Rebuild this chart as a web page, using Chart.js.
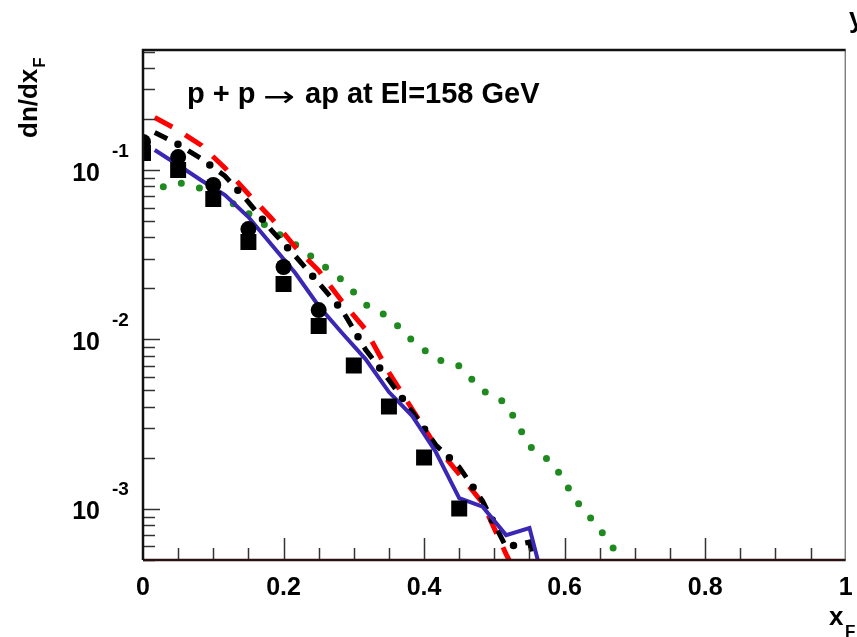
<!DOCTYPE html>
<html>
<head>
<meta charset="utf-8">
<script src="https://cdn.jsdelivr.net/npm/chart.js@4.4.0/dist/chart.umd.min.js"></script>
<style>
  html, body { margin: 0; padding: 0; background: #fff; }
  canvas { display: block; }
</style>
</head>
<body>
<canvas id="chart" width="857" height="637"></canvas>
<script>
// model curves, sampled at bin centres (bins of 1/30 in xF)
var xModel = [0.0167, 0.05, 0.0833, 0.1167, 0.15, 0.1833, 0.2167, 0.25, 0.2833, 0.3167, 0.35,
  0.3833, 0.4167, 0.45, 0.4833, 0.5167, 0.55, 0.5833, 0.6167, 0.65, 0.6833, 0.7167];
var redModel = [0.2042, 0.1718, 0.1395, 0.1027, 0.0722, 0.0516, 0.0351, 0.02551, 0.01674, 0.01144,
  0.00638, 0.00386, 0.002348, 0.001605, 0.001082, 0.000541, 0.000289];
var blackModel = [0.1665, 0.1418, 0.1164, 0.0922, 0.0647, 0.0439, 0.03108, 0.02153, 0.01491, 0.00872,
  0.00576, 0.003726, 0.00238, 0.001765, 0.001112, 0.000595, 0.000637, 0.000155];
var blueModel = [0.1312, 0.107, 0.0867, 0.0712, 0.0528, 0.0361, 0.02466, 0.01575, 0.01091, 0.00766,
  0.00489, 0.00353, 0.002165, 0.001158, 0.001029, 0.0007, 0.00077, 0.000227];
var greenModel = [0.0772, 0.0844, 0.0777, 0.0679, 0.0554, 0.0445, 0.03637, 0.02863, 0.02242, 0.01607,
  0.01356, 0.00985, 0.00766, 0.00697, 0.00499, 0.00421, 0.002348, 0.001864, 0.001112, 0.00076,
  0.000485, 0.000221];

// measured points
var xData = [0, 0.05, 0.1, 0.15, 0.2, 0.25, 0.3, 0.35, 0.4, 0.45];
var circleData = [0.1463, 0.1193, 0.0816, 0.0448, 0.02676, 0.01491];
var squareData = [0.126, 0.100, 0.0674, 0.0376, 0.02123, 0.01199, 0.00702, 0.00402, 0.00201, 0.001005];

// axis ticks
var xTickLabels = [0, 0.2, 0.4, 0.6, 0.8, 1];
var yDecades = [-1, -2, -3];

var FONT = '"Liberation Sans", Arial, Helvetica, sans-serif';

function pts(xs, ys) {
  return ys.map(function (y, i) { return { x: xs[i], y: y }; });
}

// frame, ticks and texts in ROOT style
var rootAxes = {
  id: 'rootAxes',
  afterDatasetsDraw: function (chart) {
    var ctx = chart.ctx, a = chart.chartArea;
    var xs = chart.scales.x, ys = chart.scales.y;
    ctx.save();
    ctx.strokeStyle = '#333';
    ctx.lineWidth = 1.5;
    // x ticks every 0.05, long ones every 0.2
    for (var i = 1; i < 20; i++) {
      var v = i * 0.05;
      var px = Math.round(xs.getPixelForValue(v)) + 0.5;
      var len = (i % 4 === 0) ? 22 : 12;
      ctx.beginPath();
      ctx.moveTo(px, a.bottom);
      ctx.lineTo(px, a.bottom - len);
      ctx.stroke();
    }
    // y log ticks
    for (var e = -4; e <= 0; e++) {
      for (var m = 1; m <= 9; m++) {
        var val = m * Math.pow(10, e);
        if (val < ys.min || val > ys.max) continue;
        var py = Math.round(ys.getPixelForValue(val)) + 0.5;
        var l = (m === 1) ? 17 : 12;
        ctx.beginPath();
        ctx.moveTo(a.left, py);
        ctx.lineTo(a.left + l, py);
        ctx.stroke();
      }
    }
    // frame
    ctx.strokeStyle = '#111';
    ctx.lineWidth = 2.5;
    ctx.beginPath();
    ctx.moveTo(a.right, a.top);
    ctx.lineTo(a.left, a.top);
    ctx.lineTo(a.left, a.bottom);
    ctx.stroke();
    ctx.strokeStyle = '#2a1212';
    ctx.beginPath();
    ctx.moveTo(a.left, a.bottom);
    ctx.lineTo(a.right, a.bottom);
    ctx.stroke();
    ctx.strokeStyle = '#444';
    ctx.lineWidth = 1;
    ctx.beginPath();
    ctx.moveTo(a.right - 0.5, a.top);
    ctx.lineTo(a.right - 0.5, a.bottom);
    ctx.stroke();
    ctx.restore();
  },
  afterDraw: function (chart) {
    var ctx = chart.ctx, a = chart.chartArea;
    var xs = chart.scales.x, ys = chart.scales.y;
    ctx.save();
    ctx.fillStyle = '#000';
    // x tick labels
    ctx.font = 'bold 25px ' + FONT;
    ctx.textAlign = 'center';
    ctx.textBaseline = 'alphabetic';
    xTickLabels.forEach(function (v) {
      ctx.fillText(String(v), xs.getPixelForValue(v), 595);
    });
    // y tick labels 10^n
    yDecades.forEach(function (e) {
      var py = ys.getPixelForValue(Math.pow(10, e));
      ctx.font = 'bold 25px ' + FONT;
      ctx.textAlign = 'right';
      ctx.fillText('10', 100, py + 10.5);
      ctx.font = 'bold 19px ' + FONT;
      ctx.textAlign = 'left';
      ctx.fillText(String(e), 112, py - 13.5);
    });
    // y title
    ctx.save();
    ctx.translate(37, 138);
    ctx.rotate(-Math.PI / 2);
    ctx.font = 'bold 26px ' + FONT;
    ctx.textAlign = 'left';
    ctx.fillText('dn/dx', 0, 0);
    var w = ctx.measureText('dn/dx').width;
    ctx.font = 'bold 17px ' + FONT;
    ctx.fillText('F', w + 1, 8);
    ctx.restore();
    // x title
    ctx.font = 'bold 26px ' + FONT;
    ctx.textAlign = 'left';
    ctx.fillText('x', 829, 625);
    ctx.font = 'bold 17px ' + FONT;
    ctx.fillText('F', 845, 637);
    // cut-off title at top right
    ctx.font = 'bold 27px ' + FONT;
    ctx.fillText('y', 849, 27);
    // label inside the frame, arrow drawn wider like ROOT's symbol arrow
    ctx.font = 'bold 29px ' + FONT;
    ctx.fillText('p + p', 187, 103);
    ctx.save();
    ctx.font = '28px "DejaVu Sans"';
    var aw = ctx.measureText('\u2192').width;
    ctx.translate(263, 106);
    ctx.scale(32 / aw, 1);
    ctx.fillText('\u2192', 0, 0);
    ctx.restore();
    ctx.font = 'bold 29px ' + FONT;
    ctx.fillText('ap at El=158 GeV', 305, 103);
    ctx.restore();
  }
};

var ctx = document.getElementById('chart').getContext('2d');
var chart = new Chart(ctx, {
  type: 'line',
  data: {
    datasets: [
      {
        label: 'circles',
        data: pts(xData, circleData),
        showLine: false,
        pointStyle: 'circle',
        pointRadius: 8,
        pointBackgroundColor: '#000',
        pointBorderWidth: 0,
        order: 0
      },
      {
        label: 'squares',
        data: pts(xData, squareData),
        showLine: false,
        pointStyle: 'rect',
        pointRadius: 11.3,
        pointBackgroundColor: '#000',
        pointBorderWidth: 0,
        order: 1
      },
      {
        label: 'blue',
        data: pts(xModel, blueModel),
        borderColor: '#3a28b4',
        borderWidth: 4,
        pointRadius: 0,
        tension: 0,
        order: 2
      },
      {
        label: 'black dashes',
        data: pts(xModel, blackModel),
        borderColor: '#000',
        borderWidth: 5,
        borderDash: [14, 24],
        borderCapStyle: 'butt',
        pointRadius: 0,
        tension: 0,
        order: 3
      },
      {
        label: 'black dots',
        data: pts(xModel, blackModel),
        borderColor: '#000',
        borderWidth: 7.5,
        borderDash: [0, 38],
        borderDashOffset: 12,
        borderCapStyle: 'round',
        pointRadius: 0,
        tension: 0,
        order: 3
      },
      {
        label: 'red',
        data: pts(xModel, redModel),
        borderColor: '#ff0000',
        borderWidth: 5,
        borderDash: [20, 15],
        borderCapStyle: 'butt',
        pointRadius: 0,
        tension: 0,
        order: 4
      },
      {
        label: 'green',
        data: pts(xModel, greenModel),
        borderColor: '#1f8a1f',
        borderWidth: 7,
        borderDash: [0, 18.7],
        borderDashOffset: 9.8,
        borderCapStyle: 'round',
        pointRadius: 0,
        tension: 0,
        order: 5
      }
    ]
  },
  options: {
    responsive: false,
    animation: false,
    clip: 0,
    layout: { padding: { left: 143, top: 50, right: 1, bottom: 77 } },
    plugins: { legend: { display: false }, tooltip: { enabled: false } },
    scales: {
      x: { type: 'linear', min: 0, max: 1, bounds: 'data', display: false },
      y: { type: 'logarithmic', min: 4.99e-4, max: 0.511, bounds: 'data', display: false }
    }
  },
  plugins: [rootAxes]
});
</script>
</body>
</html>
